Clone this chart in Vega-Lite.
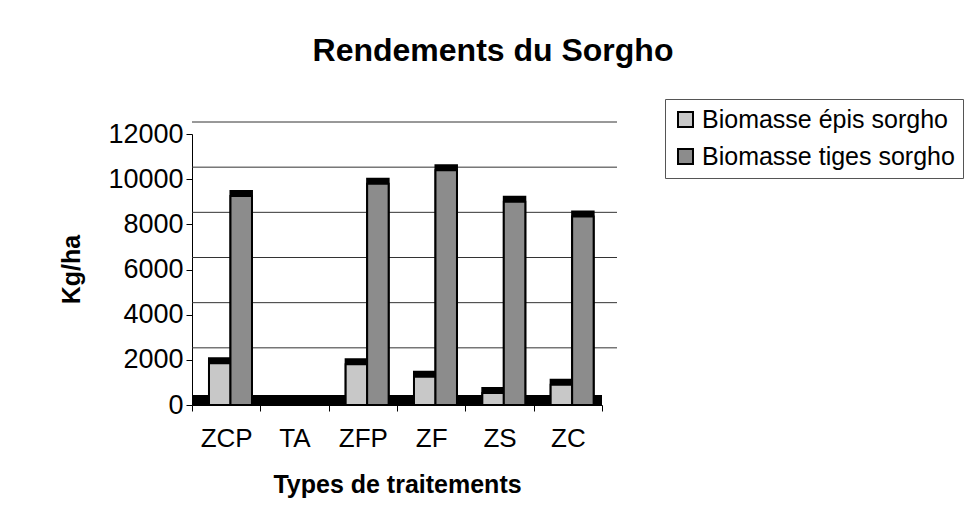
{
  "$schema": "https://vega.github.io/schema/vega-lite/v6.json",
  "width": 410,
  "height": 271,
  "autosize": {"type": "none"},
  "padding": {"left": 192, "top": 134, "right": 369, "bottom": 122},
  "background": "white",
  "title": {
    "text": "Rendements du Sorgho",
    "font": "Liberation Sans",
    "fontSize": 32,
    "fontWeight": "bold",
    "color": "black",
    "anchor": "middle",
    "baseline": "alphabetic",
    "dx": 96,
    "offset": 6
  },
  "datasets": {
    "rendements": [
      {"traitement": "ZCP", "serie": "Biomasse épis sorgho", "valeur": 1850},
      {"traitement": "ZCP", "serie": "Biomasse tiges sorgho", "valeur": 9250},
      {"traitement": "TA", "serie": "Biomasse épis sorgho", "valeur": 20},
      {"traitement": "TA", "serie": "Biomasse tiges sorgho", "valeur": 30},
      {"traitement": "ZFP", "serie": "Biomasse épis sorgho", "valeur": 1800},
      {"traitement": "ZFP", "serie": "Biomasse tiges sorgho", "valeur": 9800},
      {"traitement": "ZF", "serie": "Biomasse épis sorgho", "valeur": 1250},
      {"traitement": "ZF", "serie": "Biomasse tiges sorgho", "valeur": 10400},
      {"traitement": "ZS", "serie": "Biomasse épis sorgho", "valeur": 530},
      {"traitement": "ZS", "serie": "Biomasse tiges sorgho", "valeur": 9000},
      {"traitement": "ZC", "serie": "Biomasse épis sorgho", "valeur": 900},
      {"traitement": "ZC", "serie": "Biomasse tiges sorgho", "valeur": 8350}
    ],
    "grille": [
      {"niveau": 2000}, {"niveau": 4000}, {"niveau": 6000},
      {"niveau": 8000}, {"niveau": 10000}, {"niveau": 12000}
    ]
  },
  "layer": [
    {
      "data": {"name": "grille"},
      "mark": {"type": "rule", "color": "#333", "strokeWidth": 1, "yOffset": -12, "xOffset": 15, "x2Offset": 15},
      "encoding": {
        "y": {"field": "niveau", "type": "quantitative", "scale": {"domain": [0, 12000], "nice": false}, "title": "Kg/ha"}
      }
    },
    {
      "data": {"name": "rendements"},
      "mark": {"type": "rule", "color": "black", "strokeWidth": 10, "yOffset": -5},
      "encoding": {"y": {"datum": 0, "title": "Kg/ha"}}
    },
    {
      "data": {"name": "rendements"},
      "mark": {"type": "bar", "color": "black", "xOffset": 5, "yOffset": -5, "stroke": "black", "strokeWidth": 2},
      "encoding": {
        "x": {"field": "traitement", "type": "nominal", "sort": ["ZCP", "TA", "ZFP", "ZF", "ZS", "ZC"], "title": "Types de traitements"},
        "xOffset": {"field": "serie", "type": "nominal", "sort": ["Biomasse épis sorgho", "Biomasse tiges sorgho"]},
        "y": {"field": "valeur", "type": "quantitative", "title": "Kg/ha"}
      }
    },
    {
      "data": {"name": "rendements"},
      "mark": {"type": "bar", "stroke": "black", "strokeWidth": 2},
      "encoding": {
        "x": {
          "field": "traitement",
          "type": "nominal",
          "sort": ["ZCP", "TA", "ZFP", "ZF", "ZS", "ZC"],
          "scale": {"paddingInner": 0, "paddingOuter": 0},
          "title": "Types de traitements"
        },
        "xOffset": {
          "field": "serie",
          "type": "nominal",
          "sort": ["Biomasse épis sorgho", "Biomasse tiges sorgho"],
          "scale": {"paddingInner": 0, "paddingOuter": 0.59, "align": 0.67}
        },
        "y": {
          "field": "valeur",
          "type": "quantitative",
          "scale": {"domain": [0, 12000], "nice": false},
          "title": "Kg/ha"
        },
        "color": {
          "field": "serie",
          "type": "nominal",
          "scale": {
            "domain": ["Biomasse épis sorgho", "Biomasse tiges sorgho"],
            "range": ["#c8c8c8", "#8c8c8c"]
          },
          "legend": {
            "title": null,
            "orient": "none",
            "legendX": 473,
            "legendY": -35,
            "symbolType": "square",
            "symbolSize": 225,
            "symbolStrokeColor": "black",
            "symbolStrokeWidth": 2,
            "labelFont": "Liberation Sans",
            "labelFontSize": 25,
            "labelColor": "black",
            "labelOffset": 4,
            "labelLimit": 600,
            "rowPadding": 11,
            "padding": 8,
            "strokeColor": "#555"
          }
        }
      }
    }
  ],
  "config": {
    "view": {"stroke": null},
    "axisX": {
      "titleFont": "Liberation Sans",
      "titleFontSize": 25,
      "titleFontWeight": "bold",
      "titleColor": "black",
      "titleY": 79,
      "titleBaseline": "middle",
      "labelFont": "Liberation Sans",
      "labelFontSize": 26,
      "labelColor": "black",
      "labelAngle": 0,
      "labelPadding": 14,
      "tickBand": "extent",
      "tickColor": "black",
      "tickSize": 6,
      "domainColor": "black",
      "grid": false
    },
    "axisY": {
      "titleFont": "Liberation Sans",
      "titleFontSize": 25,
      "titleFontWeight": "bold",
      "titleColor": "black",
      "titleX": -121,
      "titleY": 135,
      "titleAngle": -90,
      "titleAlign": "center",
      "titleBaseline": "middle",
      "values": [0, 2000, 4000, 6000, 8000, 10000, 12000],
      "format": "d",
      "labelFont": "Liberation Sans",
      "labelFontSize": 27,
      "labelColor": "black",
      "labelPadding": 3,
      "tickColor": "black",
      "tickSize": 6,
      "domainColor": "black",
      "grid": false
    }
  }
}
